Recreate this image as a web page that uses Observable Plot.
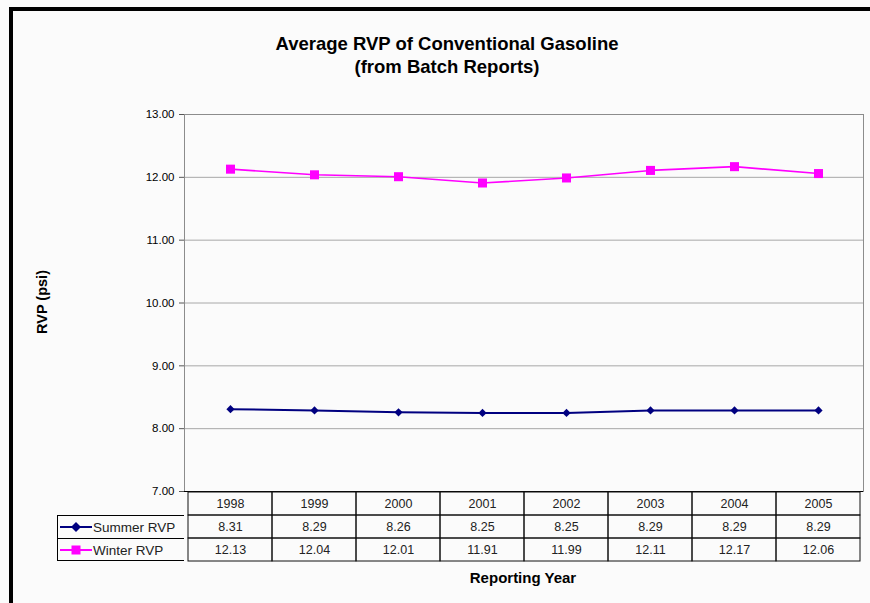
<!DOCTYPE html>
<html><head><meta charset="utf-8">
<script src="https://cdn.jsdelivr.net/npm/d3@7"></script>
<script src="https://cdn.jsdelivr.net/npm/@observablehq/plot@0.6"></script>
<style>
html,body{margin:0;padding:0;background:#fbfbfb;width:870px;height:603px;overflow:hidden;font-family:"Liberation Sans",Arial,sans-serif;position:relative;}
#frame{position:absolute;left:9px;top:7px;width:900px;height:700px;border-left:4px solid #000;border-top:4px solid #000;box-sizing:border-box;}
#title{position:absolute;left:0;width:894px;top:33px;text-align:center;font-weight:bold;font-size:18.5px;line-height:22.5px;color:#000;}
#chart,#table{position:absolute;left:0;}
#chart{top:0;}
#table{top:491px;}
#ylabel{position:absolute;left:42px;top:302px;transform:translate(-50%,-50%) rotate(-90deg);font-weight:bold;font-size:14.5px;white-space:nowrap;}
#xlabel{position:absolute;left:523px;top:577px;transform:translate(-50%,-50%);font-weight:bold;font-size:15px;white-space:nowrap;}
#legend{position:absolute;left:57px;top:515px;width:127px;height:46px;box-sizing:border-box;border:1px solid #000;border-right:none;font-size:13.5px;color:#222;}
#legend .row{height:22px;display:flex;align-items:center;}
#legend .row + .row{border-top:1px solid #000;}
#legend svg{margin-left:2px;margin-right:1px;}
</style></head>
<body>
<div id="frame"></div>
<div id="title">Average RVP of Conventional Gasoline<br>(from Batch Reports)</div>
<div id="chart"></div>
<div id="table"></div>
<div id="ylabel">RVP (psi)</div>
<div id="xlabel">Reporting Year</div>
<div id="legend"></div>
<script>
const years = ["1998","1999","2000","2001","2002","2003","2004","2005"];
const summer = [8.31,8.29,8.26,8.25,8.25,8.29,8.29,8.29];
const winter = [12.13,12.04,12.01,11.91,11.99,12.11,12.17,12.06];
const yTicks = [7,8,9,10,11,12,13];
const seriesNames = ["Summer RVP","Winter RVP"];
const seriesColors = ["#000080","#ff00ff"];

const sData = years.map((yr,i)=>({yr, v: summer[i]}));
const wData = years.map((yr,i)=>({yr, v: winter[i]}));

const chart = Plot.plot({
  width: 870, height: 603,
  marginLeft: 184, marginRight: 7, marginTop: 114, marginBottom: 112,
  style: {background: "transparent", fontFamily: "Liberation Sans, Arial, sans-serif", fontSize: "11.5px", color: "#000"},
  x: {type: "band", domain: years, padding: 0, axis: null},
  y: {domain: [7, 13], label: null},
  marks: [
    Plot.gridY(yTicks, {stroke: "#a8a8a8", strokeOpacity: 1}),
    Plot.frame({stroke: "#8c8c8c"}),
    Plot.axisY(yTicks, {tickFormat: d => d.toFixed(2), tickSize: 5, tickPadding: 5, stroke: "#555", label: null}),
    Plot.ruleY([7], {stroke: "#000"}),
    Plot.line(sData, {x: "yr", y: "v", stroke: seriesColors[0], strokeWidth: 2}),
    Plot.dot(sData, {x: "yr", y: "v", symbol: "diamond2", r: 3.7, fill: seriesColors[0], stroke: "none"}),
    Plot.line(wData, {x: "yr", y: "v", stroke: seriesColors[1], strokeWidth: 1.6}),
    Plot.dot(wData, {x: "yr", y: "v", symbol: "square", r: 5.1, fill: seriesColors[1], stroke: "none"})
  ]
});
document.getElementById("chart").appendChild(chart);

const rows = ["Year", ...seriesNames];
const cells = years.flatMap((yr, i) => [
  {yr, row: rows[0], t: yr},
  {yr, row: rows[1], t: summer[i].toFixed(2)},
  {yr, row: rows[2], t: winter[i].toFixed(2)}
]);
const table = Plot.plot({
  width: 870, height: 71,
  marginLeft: 184, marginRight: 7, marginTop: 0, marginBottom: 1,
  style: {background: "transparent", fontFamily: "Liberation Sans, Arial, sans-serif", fontSize: "12.5px"},
  x: {type: "band", domain: years, padding: 0, axis: null},
  y: {type: "band", domain: rows, padding: 0, axis: null},
  marks: [
    Plot.cell(cells, {x: "yr", y: "row", fill: "none", stroke: "#111", inset: 0}),
    Plot.text(cells, {x: "yr", y: "row", text: "t", fill: "#222", fontSize: 12.5})
  ]
});
document.getElementById("table").appendChild(table);

// legend column of the data table
const legend = document.getElementById("legend");
seriesNames.forEach((name, i) => {
  const row = document.createElement("div");
  row.className = "row";
  const marker = i === 0
    ? `<polygon points="16,1 21,6 16,11 11,6" fill="${seriesColors[0]}"/>`
    : `<rect x="11.5" y="1.5" width="9" height="9" fill="${seriesColors[1]}"/>`;
  row.innerHTML = `<svg width="32" height="12"><line x1="0" x2="32" y1="6" y2="6" stroke="${seriesColors[i]}" stroke-width="2"/>${marker}</svg><span>${name}</span>`;
  legend.appendChild(row);
});
</script>
</body></html>
